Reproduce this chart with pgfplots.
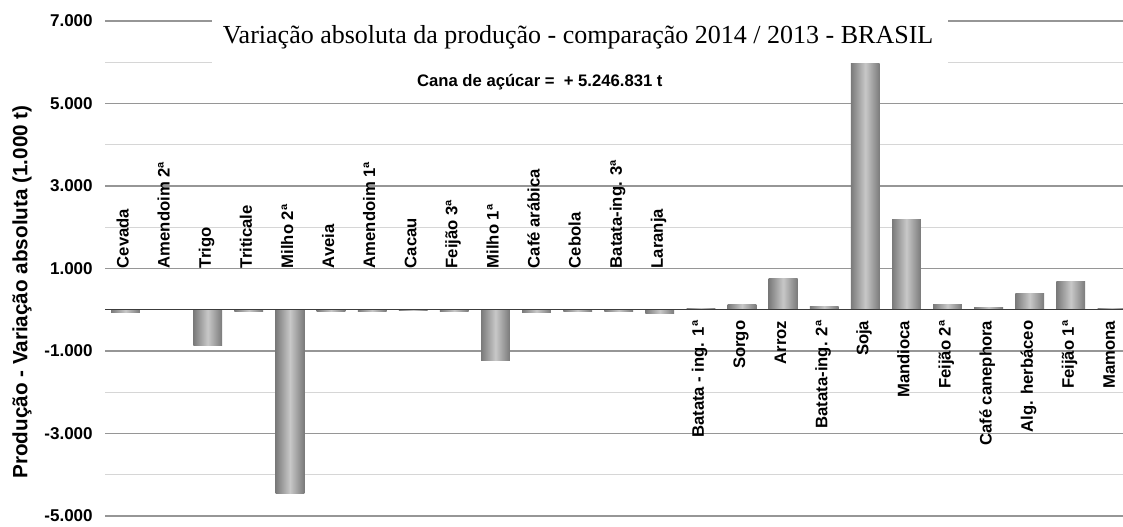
\documentclass[border=0pt]{standalone}
\usepackage{pgfplots}
\pgfplotsset{compat=1.18}
\usepackage{fontspec}
\setmainfont{Liberation Serif}
\newfontfamily\arial{Liberation Sans}
\definecolor{bardark}{RGB}{122,122,122}
\definecolor{barlight}{RGB}{200,200,200}
\definecolor{majgrid}{RGB}{150,150,150}
\definecolor{mingrid}{RGB}{214,214,214}
\definecolor{zeroline}{RGB}{60,60,60}
\pgfplotsset{barst/.style={ybar, bar width=0.7, bar shift=0pt, draw=none, left color=bardark, right color=bardark, middle color=barlight}}
\begin{document}
\begin{tikzpicture}
\begin{axis}[
  scale only axis, width=763.5pt, height=371.25pt,
  xmin=-0.5, xmax=24.27, ymin=-5000, ymax=7000,
  axis line style={draw=none},
  xtick=\empty,
  ytick={-5000,-3000,-1000,1000,3000,5000,7000},
  yticklabels={-5.000,-3.000,-1.000,1.000,3.000,5.000,7.000},
  minor ytick={-4000,-2000,0,2000,4000,6000},
  ymajorgrids, yminorgrids,
  major grid style={majgrid, line width=0.8pt},
  minor grid style={mingrid, line width=0.8pt},
  major tick length=0pt, minor tick length=0pt,
  yticklabel style={font=\arial\bfseries\fontsize{12.8}{14}\selectfont, anchor=east, inner sep=0pt, xshift=-9pt},
  clip=false,
]
% title box (drawn below the bars, above the grid)
\fill[white] (axis cs:2.10,5958) rectangle (axis cs:20.01,7150);
\node[anchor=base, inner sep=0pt, font=\fontsize{19.5}{22}\selectfont] at (axis cs:11.01,6459) {Variação absoluta da produção - comparação 2014 / 2013 - BRASIL};
\node[anchor=base, inner sep=0pt, font=\arial\bfseries\fontsize{12.5}{14}\selectfont] at (axis cs:10.08,5424) {Cana de açúcar =\ \ + 5.246.831 t};

\addplot[barst] coordinates {(0,-70)};
\addplot[barst] coordinates {(1,-5)};
\addplot[barst] coordinates {(2,-855)};
\addplot[barst] coordinates {(3,-50)};
\addplot[barst] coordinates {(4,-4450)};
\addplot[barst] coordinates {(5,-50)};
\addplot[barst] coordinates {(6,-50)};
\addplot[barst] coordinates {(7,-10)};
\addplot[barst] coordinates {(8,-50)};
\addplot[barst] coordinates {(9,-1230)};
\addplot[barst] coordinates {(10,-70)};
\addplot[barst] coordinates {(11,-50)};
\addplot[barst] coordinates {(12,-50)};
\addplot[barst] coordinates {(13,-100)};
\addplot[barst] coordinates {(14,40)};
\addplot[barst] coordinates {(15,135)};
\addplot[barst] coordinates {(16,760)};
\addplot[barst] coordinates {(17,90)};
\addplot[barst] coordinates {(18,5980)};
\addplot[barst] coordinates {(19,2180)};
\addplot[barst] coordinates {(20,135)};
\addplot[barst] coordinates {(21,65)};
\addplot[barst] coordinates {(22,400)};
\addplot[barst] coordinates {(23,690)};
\addplot[barst] coordinates {(24,40)};
\draw[zeroline, line width=1.1pt] (axis cs:-0.5,0) -- (axis cs:24.27,0);

% category labels
\tikzset{lbl/.style={rotate=90, inner sep=0pt, font=\arial\bfseries\fontsize{12.5}{14}\selectfont}}
\node[lbl, anchor=mid west] at (axis cs:0,1000) {Cevada};
\node[lbl, anchor=mid west] at (axis cs:1,1000) {Amendoim 2ª};
\node[lbl, anchor=mid west] at (axis cs:2,1000) {Trigo};
\node[lbl, anchor=mid west] at (axis cs:3,1000) {Triticale};
\node[lbl, anchor=mid west] at (axis cs:4,1000) {Milho 2ª};
\node[lbl, anchor=mid west] at (axis cs:5,1000) {Aveia};
\node[lbl, anchor=mid west] at (axis cs:6,1000) {Amendoim 1ª};
\node[lbl, anchor=mid west] at (axis cs:7,1000) {Cacau};
\node[lbl, anchor=mid west] at (axis cs:8,1000) {Feijão 3ª};
\node[lbl, anchor=mid west] at (axis cs:9,1000) {Milho 1ª};
\node[lbl, anchor=mid west] at (axis cs:10,1000) {Café arábica};
\node[lbl, anchor=mid west] at (axis cs:11,1000) {Cebola};
\node[lbl, anchor=mid west] at (axis cs:12,1000) {Batata-ing. 3ª};
\node[lbl, anchor=mid west] at (axis cs:13,1000) {Laranja};
\node[lbl, anchor=mid east] at (axis cs:14,-260) {Batata - ing. 1ª};
\node[lbl, anchor=mid east] at (axis cs:15,-260) {Sorgo};
\node[lbl, anchor=mid east] at (axis cs:16,-260) {Arroz};
\node[lbl, anchor=mid east] at (axis cs:17,-260) {Batata-ing. 2ª};
\node[lbl, anchor=mid east] at (axis cs:18,-260) {Soja};
\node[lbl, anchor=mid east] at (axis cs:19,-260) {Mandioca};
\node[lbl, anchor=mid east] at (axis cs:20,-260) {Feijão 2ª};
\node[lbl, anchor=mid east] at (axis cs:21,-260) {Café canephora};
\node[lbl, anchor=mid east] at (axis cs:22,-260) {Alg. herbáceo};
\node[lbl, anchor=mid east] at (axis cs:23,-260) {Feijão 1ª};
\node[lbl, anchor=mid east] at (axis cs:24,-260) {Mamona};
\end{axis}
\node[rotate=90, inner sep=0pt, font=\arial\bfseries\fontsize{15.5}{18}\selectfont] at (-62.25pt,168pt) {Produção - Variação absoluta (1.000 t)};
\pgfresetboundingbox
\path[use as bounding box] (-78.75pt,-7.5pt) rectangle (763.5pt,387pt);
\end{tikzpicture}
\end{document}
